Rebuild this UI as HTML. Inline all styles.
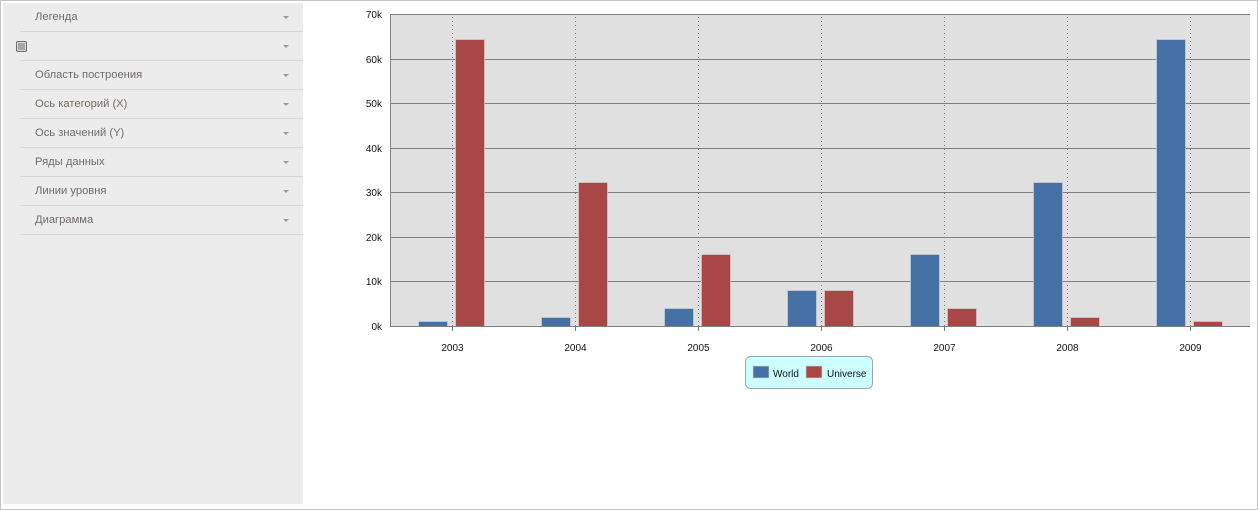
<!DOCTYPE html>
<html>
<head>
<meta charset="utf-8">
<style>
html,body{margin:0;padding:0;background:#fff;}
body{width:1258px;height:510px;position:relative;overflow:hidden;font-family:"Liberation Sans","DejaVu Sans",sans-serif;}
#frame{position:absolute;left:0;top:0;width:1256px;height:508px;border:1px solid #c4c4c4;}
#panel{position:absolute;left:3px;top:3px;width:300px;height:501px;background:#ececed;}
.row{position:absolute;left:0;width:300px;height:29px;}
.row .t{position:absolute;left:32px;top:0;line-height:28px;font-size:11.2px;color:#726a64;}
.row .sep{position:absolute;left:17px;right:0;bottom:0;height:1px;background:#d7d7d8;}
.row .arr{position:absolute;left:280px;top:13px;width:0;height:0;border-left:3px solid transparent;border-right:3px solid transparent;border-top:3px solid #9a9a9a;}
.cb{position:absolute;left:13px;top:9px;width:9px;height:9px;background:#a6a6a6;border:1px solid #6e6e6e;border-radius:2px;box-shadow:inset 0 0 0 1px #d8d8d8;}
</style>
</head>
<body>
<div id="frame"></div>
<div id="panel">
  <div class="row" style="top:0px"><span class="t">Легенда</span><div class="arr"></div><div class="sep"></div></div>
  <div class="row" style="top:29px"><div class="cb"></div><div class="arr"></div><div class="sep"></div></div>
  <div class="row" style="top:58px"><span class="t">Область построения</span><div class="arr"></div><div class="sep"></div></div>
  <div class="row" style="top:87px"><span class="t">Ось категорий (X)</span><div class="arr"></div><div class="sep"></div></div>
  <div class="row" style="top:116px"><span class="t">Ось значений (Y)</span><div class="arr"></div><div class="sep"></div></div>
  <div class="row" style="top:145px"><span class="t">Ряды данных</span><div class="arr"></div><div class="sep"></div></div>
  <div class="row" style="top:174px"><span class="t">Линии уровня</span><div class="arr"></div><div class="sep"></div></div>
  <div class="row" style="top:203px"><span class="t">Диаграмма</span><div class="arr"></div><div class="sep"></div></div>
</div>
<svg width="1258" height="510" style="position:absolute;left:0;top:0" xmlns="http://www.w3.org/2000/svg">
  <rect x="390" y="14" width="860" height="312" fill="#e0e0e0"/>
  <g stroke="#808080" stroke-width="1">
    <line x1="390" y1="14.5" x2="1250" y2="14.5"/>
    <line x1="390" y1="59.5" x2="1250" y2="59.5"/>
    <line x1="390" y1="103.5" x2="1250" y2="103.5"/>
    <line x1="390" y1="148.5" x2="1250" y2="148.5"/>
    <line x1="390" y1="192.5" x2="1250" y2="192.5"/>
    <line x1="390" y1="237.5" x2="1250" y2="237.5"/>
    <line x1="390" y1="281.5" x2="1250" y2="281.5"/>
    <line x1="390.5" y1="14" x2="390.5" y2="326"/>
  </g>
  <g stroke="#777" stroke-width="1" stroke-dasharray="1,3">
    <line x1="452.5" y1="17" x2="452.5" y2="326"/>
    <line x1="575.5" y1="17" x2="575.5" y2="326"/>
    <line x1="698.5" y1="17" x2="698.5" y2="326"/>
    <line x1="821.5" y1="17" x2="821.5" y2="326"/>
    <line x1="944.5" y1="17" x2="944.5" y2="326"/>
    <line x1="1067.5" y1="17" x2="1067.5" y2="326"/>
    <line x1="1190.5" y1="17" x2="1190.5" y2="326"/>
  </g>
  <g stroke="rgba(210,210,210,0.7)" stroke-width="1">
    <rect x="418.5" y="321.5" width="29" height="5" fill="#4570a6"/>
    <rect x="541.5" y="317.5" width="29" height="9" fill="#4570a6"/>
    <rect x="664.5" y="308.5" width="29" height="18" fill="#4570a6"/>
    <rect x="787.5" y="290.5" width="29" height="36" fill="#4570a6"/>
    <rect x="910.5" y="254.5" width="29" height="72" fill="#4570a6"/>
    <rect x="1033.5" y="182.5" width="29" height="144" fill="#4570a6"/>
    <rect x="1156.5" y="39.5" width="29" height="287" fill="#4570a6"/>
    <rect x="455.5" y="39.5" width="29" height="287" fill="#a84745"/>
    <rect x="578.5" y="182.5" width="29" height="144" fill="#a84745"/>
    <rect x="701.5" y="254.5" width="29" height="72" fill="#a84745"/>
    <rect x="824.5" y="290.5" width="29" height="36" fill="#a84745"/>
    <rect x="947.5" y="308.5" width="29" height="18" fill="#a84745"/>
    <rect x="1070.5" y="317.5" width="29" height="9" fill="#a84745"/>
    <rect x="1193.5" y="321.5" width="29" height="5" fill="#a84745"/>
  </g>
  <g stroke="#808080" stroke-width="1">
    <line x1="390" y1="326.5" x2="1250" y2="326.5"/>
    <line x1="452.5" y1="326" x2="452.5" y2="331"/>
    <line x1="575.5" y1="326" x2="575.5" y2="331"/>
    <line x1="698.5" y1="326" x2="698.5" y2="331"/>
    <line x1="821.5" y1="326" x2="821.5" y2="331"/>
    <line x1="944.5" y1="326" x2="944.5" y2="331"/>
    <line x1="1067.5" y1="326" x2="1067.5" y2="331"/>
    <line x1="1190.5" y1="326" x2="1190.5" y2="331"/>
  </g>
  <g font-family="Liberation Sans, sans-serif" font-size="10" fill="#111" text-anchor="end">
    <text x="382" y="18">70k</text>
    <text x="382" y="63">60k</text>
    <text x="382" y="107">50k</text>
    <text x="382" y="152">40k</text>
    <text x="382" y="196">30k</text>
    <text x="382" y="241">20k</text>
    <text x="382" y="285">10k</text>
    <text x="382" y="330">0k</text>
  </g>
  <g font-family="Liberation Sans, sans-serif" font-size="10" fill="#111" text-anchor="middle">
    <text x="452.5" y="351">2003</text>
    <text x="575.5" y="351">2004</text>
    <text x="698.5" y="351">2005</text>
    <text x="821.5" y="351">2006</text>
    <text x="944.5" y="351">2007</text>
    <text x="1067.5" y="351">2008</text>
    <text x="1190.5" y="351">2009</text>
  </g>
  <rect x="745.5" y="356.5" width="127" height="32" rx="5" ry="5" fill="#ccffff" stroke="#9aa8ac"/>
  <rect x="753" y="366" width="16" height="12" fill="#4570a6" stroke="rgba(210,210,210,0.7)"/>
  <rect x="806" y="366" width="16" height="12" fill="#a84745" stroke="rgba(210,210,210,0.7)"/>
  <g font-family="Liberation Sans, sans-serif" font-size="10" fill="#111">
    <text x="773" y="377">World</text>
    <text x="827" y="377">Universe</text>
  </g>
</svg>
</body>
</html>
